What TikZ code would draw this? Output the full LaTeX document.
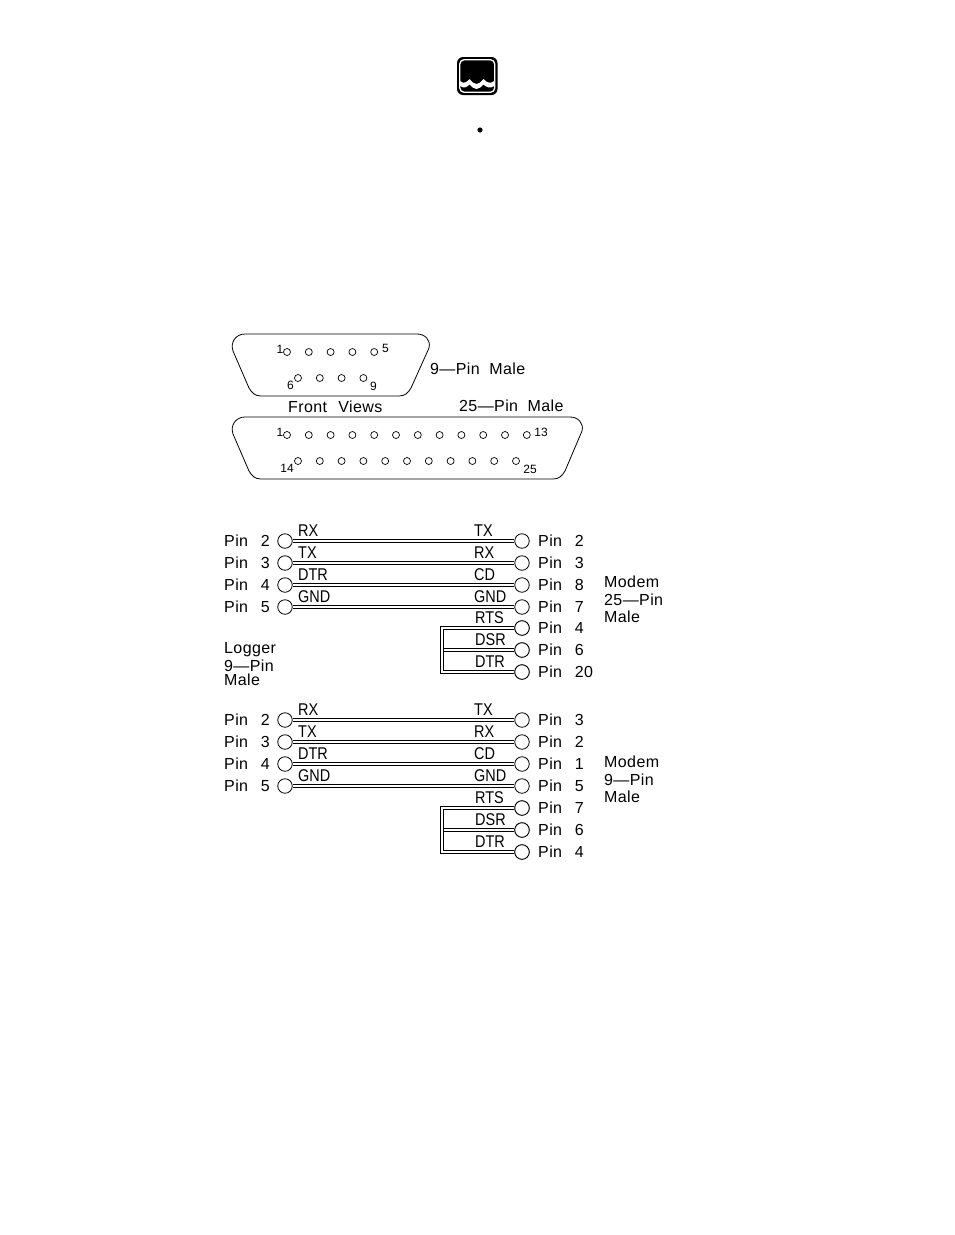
\documentclass[tikz,border=0pt]{standalone}
\usepackage{fontspec}
\setmainfont{Liberation Sans}
\newfontfamily\cadfont[LetterSpace=2.5]{Liberation Sans}
\newfontfamily\sigfont[FakeStretch=0.85]{Liberation Sans}
\tikzset{
  pinhole/.style={circle,draw,line width=.8pt,fill=white,minimum size=14.5pt,inner sep=0pt},
  shellpin/.style={circle,draw,line width=.7pt,minimum size=7pt,inner sep=0pt},
  wire/.style={line width=.8pt,double=white,double distance=2.6pt},
  shell/.style={line width=.8pt},
  txt/.style={inner sep=0pt,anchor=west,font=\cadfont\fontsize{16}{17}\selectfont},
  sig/.style={inner sep=0pt,anchor=west,font=\sigfont\fontsize{17}{18}\selectfont},
  tiny/.style={inner sep=0pt,font=\fontsize{12}{13}\selectfont}
}
\begin{document}
\begin{tikzpicture}[x=1pt,y=-1pt]
\useasboundingbox (0,0) rectangle (954,1235);
% logo
\fill[black,rounded corners=6pt] (457,57) rectangle (497.5,95);
\draw[white,line width=1.3pt,rounded corners=4.5pt] (459.7,59.7) rectangle (494.8,92.3);
\fill[white] (460,81) .. controls (464,84.5) and (467,82) .. (469.5,79) .. controls (472,82) and (474,84) .. (476.5,84) .. controls (479,84) and (481,82) .. (483.5,79) .. controls (486,82) and (490,84.5) .. (494.5,81) -- (494.5,86) .. controls (490,89) and (486,87) .. (483.5,84.5) .. controls (481,87) and (479,89) .. (476.5,89) .. controls (474,89) and (472,87) .. (469.5,84.5) .. controls (467,87) and (464,89) .. (460,86) -- cycle;
\fill (480,130) circle (2.6pt);
% connector shells
\draw[shell] (245,334) -- (417,334) .. controls (425,334) and (431,340) .. (429,348) -- (411,388) .. controls (408,393) and (405,396) .. (399,396) -- (261,396) .. controls (255,396) and (252,393) .. (249,388) -- (233,351) .. controls (230,342) and (236,334) .. (245,334) -- cycle;
\draw[shell] (245,417) -- (570,417) .. controls (578,417) and (584,423) .. (582,431) -- (565,471) .. controls (562,476) and (559,479) .. (553,479) -- (261,479) .. controls (255,479) and (252,476) .. (249,471) -- (233,434) .. controls (230,425) and (236,417) .. (245,417) -- cycle;
\foreach \i in {0,...,4} \node[shellpin] (ninetop\i) at (287+21.8*\i,352) {};
\foreach \i in {0,...,3} \node[shellpin] (ninebot\i) at (298+21.8*\i,378) {};
\foreach \i in {0,...,11} \node[shellpin] (twentytop\i) at (287+21.8*\i,435) {};
\foreach \i in {0,...,10} \node[shellpin] (twentybot\i) at (298+21.8*\i,461) {};
\foreach \t/\x/\y [count=\n] in {1/280/349,5/385.5/348,6/290.5/385,9/373.5/386,1/280/432,13/541/432,14/287/468,25/530/469}
  \node[tiny] (num\n) at (\x,\y) {\t};
\node[txt] (ninemale) at (430,369) {9\textemdash Pin\hspace{.6em}Male};
\node[txt] (frontviews) at (288,407) {Front\hspace{.7em}Views};
\node[txt] (twentymale) at (459,406) {25\textemdash Pin\hspace{.6em}Male};
% upper cable
\foreach \n/\y/\l/\r/\sl/\sr in {a/541/2/2/RX/TX,b/563/3/3/TX/RX,c/585/4/8/DTR/CD,d/607/5/7/GND/GND}{
  \node[pinhole] (upl\n) at (285,\y) {};
  \node[pinhole] (upr\n) at (522,\y) {};
  \draw[wire] (upl\n) -- (upr\n);
  \node[txt] (uplt\n) at (224,\y) {Pin\hspace{.8em}\l};
  \node[txt] (uprt\n) at (538,\y) {Pin\hspace{.8em}\r};
  \node[sig] (upls\n) at (298,\y-10.5) {\sl};
  \node[sig] (uprs\n) at (474,\y-10.5) {\sr};
}
\foreach \n/\y/\r/\sr in {e/628/4/RTS,f/650/6/DSR,g/672/20/DTR}{
  \node[pinhole] (upr\n) at (522,\y) {};
  \node[txt] (uprt\n) at (538,\y) {Pin\hspace{.8em}\r};
  \node[sig] (uprs\n) at (475,\y-10.5) {\sr};
}
\coordinate (uptop) at (442,628);
\coordinate (upbot) at (442,672);
\coordinate (upmid) at (443.8,650);
\draw[wire] (upre) -- (uptop) -- (upbot) -- (uprg);
\draw[wire] (upmid) -- (uprf);
\foreach \n in {e,f,g} \node[pinhole] at (upr\n) {};
% lower cable
\foreach \n/\y/\l/\r/\sl/\sr in {a/720/2/3/RX/TX,b/742/3/2/TX/RX,c/764/4/1/DTR/CD,d/786/5/5/GND/GND}{
  \node[pinhole] (lol\n) at (285,\y) {};
  \node[pinhole] (lor\n) at (522,\y) {};
  \draw[wire] (lol\n) -- (lor\n);
  \node[txt] (lolt\n) at (224,\y) {Pin\hspace{.8em}\l};
  \node[txt] (lort\n) at (538,\y) {Pin\hspace{.8em}\r};
  \node[sig] (lols\n) at (298,\y-10.5) {\sl};
  \node[sig] (lors\n) at (474,\y-10.5) {\sr};
}
\foreach \n/\y/\r/\sr in {e/808/7/RTS,f/830/6/DSR,g/852/4/DTR}{
  \node[pinhole] (lor\n) at (522,\y) {};
  \node[txt] (lort\n) at (538,\y) {Pin\hspace{.8em}\r};
  \node[sig] (lors\n) at (475,\y-10.5) {\sr};
}
\coordinate (lotop) at (442,808);
\coordinate (lobot) at (442,852);
\coordinate (lomid) at (443.8,830);
\draw[wire] (lore) -- (lotop) -- (lobot) -- (lorg);
\draw[wire] (lomid) -- (lorf);
\foreach \n in {e,f,g} \node[pinhole] at (lor\n) {};
% side labels
\node[txt] (modemup) at (604,582) {Modem};
\node[txt] (modemupb) at (604,599.5) {25\textemdash Pin};
\node[txt] (modemupc) at (604,617) {Male};
\node[txt] (logger) at (224,650) {Logger};
\node[txt] (loggerb) at (224,665.5) {9\textemdash Pin};
\node[txt] (loggerc) at (224,680) {Male};
\node[txt] (modemlo) at (604,762) {Modem};
\node[txt] (modemlob) at (604,779.5) {9\textemdash Pin};
\node[txt] (modemloc) at (604,797) {Male};
\end{tikzpicture}
\end{document}
